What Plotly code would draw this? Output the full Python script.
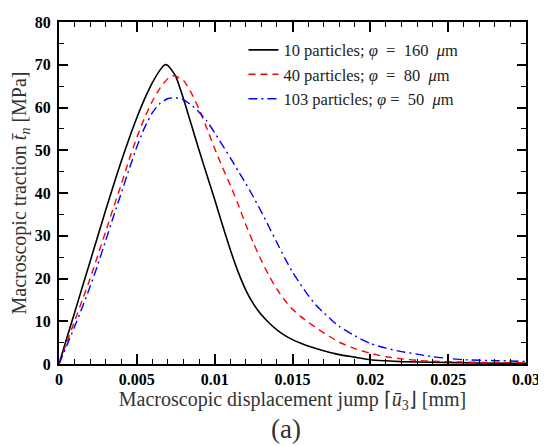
import plotly.graph_objects as go

# Data
x_black = [0, 0.0005, 0.001, 0.0015, 0.002, 0.0025, 0.003, 0.0035, 0.004, 0.0045, 0.005, 0.0055,
           0.006, 0.0065, 0.0068, 0.007, 0.0075, 0.008, 0.0085, 0.009, 0.0095, 0.010, 0.0105,
           0.011, 0.0115, 0.012, 0.0125, 0.013, 0.0135, 0.014, 0.0145, 0.015, 0.0155, 0.016,
           0.017, 0.018, 0.019, 0.020, 0.021, 0.022, 0.024, 0.027, 0.03]
y_black = [0, 6, 12, 18, 24, 30, 36, 41.8, 47.4, 52.7, 57.6, 62.0,
           65.8, 68.8, 70.0, 69.8, 67.3, 62.0, 56.0, 50.0, 44.2, 38.5, 32.5,
           26.8, 21.6, 17.3, 14.0, 11.5, 9.6, 8.0, 6.7, 5.7, 4.9, 4.2,
           3.1, 2.2, 1.6, 1.0, 0.75, 0.55, 0.4, 0.25, 0.15]

x_red = [0, 0.0005, 0.001, 0.0015, 0.002, 0.0025, 0.003, 0.0035, 0.004, 0.0045, 0.005, 0.0055,
         0.006, 0.0065, 0.007, 0.0073, 0.0075, 0.008, 0.0085, 0.009, 0.0095, 0.010, 0.0105,
         0.011, 0.0115, 0.012, 0.0125, 0.013, 0.0135, 0.014, 0.0145, 0.015, 0.0155, 0.016,
         0.0165, 0.017, 0.0175, 0.018, 0.019, 0.020, 0.021, 0.022, 0.023, 0.024, 0.026, 0.028, 0.03]
y_red = [0, 5, 10, 15, 20, 25.5, 31, 36.6, 42, 47.8, 53.0, 57.6,
         61.5, 64.6, 66.8, 67.4, 67.3, 66.3, 63.4, 59.6, 55.1, 50.4, 46.0,
         41.9, 37.4, 32.6, 28.2, 24.2, 20.6, 17.5, 14.9, 12.8, 11.2, 9.8,
         8.5, 7.3, 6.2, 5.1, 3.6, 2.5, 1.7, 1.2, 0.85, 0.65, 0.45, 0.35, 0.3]

x_blue = [0, 0.0005, 0.001, 0.0015, 0.002, 0.0025, 0.003, 0.0035, 0.004, 0.0045, 0.005, 0.0055,
          0.006, 0.0065, 0.007, 0.0075, 0.008, 0.0085, 0.009, 0.0095, 0.010, 0.0105,
          0.011, 0.0115, 0.012, 0.0125, 0.013, 0.0135, 0.014, 0.0145, 0.015, 0.0155, 0.016,
          0.0165, 0.017, 0.0175, 0.018, 0.019, 0.020, 0.021, 0.022, 0.023, 0.024, 0.025, 0.026,
          0.028, 0.03]
y_blue = [0, 4.3, 8.7, 13.3, 18.1, 23.3, 28.9, 34.5, 40, 45.5, 50.8, 55.3,
          58.8, 61.0, 62.1, 62.3, 61.8, 60.6, 58.9, 56.8, 54.1, 51.2,
          48.3, 45.2, 42.2, 39.0, 35.6, 32.0, 28.4, 24.8, 21.5, 18.7, 16.1,
          13.8, 12.0, 10.3, 8.8, 6.6, 4.8, 3.7, 2.9, 2.3, 1.7, 1.3, 1.0,
          0.8, 0.6]

names = ["10 particles; <i>φ</i>  =  160  <i>μ</i>m",
         "40 particles; <i>φ</i>  =  80  <i>μ</i>m",
         "103 particles; <i>φ</i> =  50  <i>μ</i>m"]

x_ticks = [0, 0.005, 0.01, 0.015, 0.02, 0.025, 0.03]
x_ticklabels = ["0", "0.005", "0.01", "0.015", "0.02", "0.025", "0.03"]
y_ticks = [0, 10, 20, 30, 40, 50, 60, 70, 80]

serif = "Liberation Serif"

fig = go.Figure()
fig.add_trace(go.Scatter(x=x_black, y=y_black, mode="lines", name=names[0],
                         line=dict(color="black", width=1.6, shape="spline", smoothing=0.5)))
fig.add_trace(go.Scatter(x=x_red, y=y_red, mode="lines", name=names[1],
                         line=dict(color="#ff0000", width=1.4, dash="7px,5px", shape="spline", smoothing=0.5)))
fig.add_trace(go.Scatter(x=x_blue, y=y_blue, mode="lines", name=names[2],
                         line=dict(color="#0000ff", width=1.4, dash="9px,4px,2px,4px", shape="spline", smoothing=0.5)))

# page body has an 8px margin: figure is sized so the plot lands where the reference has it
fig.update_layout(
    width=538, height=438,
    margin=dict(l=50.5, r=15, t=6, b=82),
    paper_bgcolor="white", plot_bgcolor="white",
    font=dict(family=serif, color="black", size=16),
    legend=dict(x=0.395, y=0.969, xanchor="left", yanchor="top",
                bgcolor="rgba(0,0,0,0)", font=dict(family=serif, size=16.5, color="#222222"),
                itemwidth=30, tracegroupgap=0),
    showlegend=True,
)

fig.update_xaxes(
    range=[0, 0.03], tickvals=x_ticks, ticktext=x_ticklabels,
    ticks="inside", ticklen=10, tickwidth=1.5, tickcolor="black",
    showline=True, linecolor="black", linewidth=2, mirror="ticks",
    showgrid=False, zeroline=False, ticklabeloverflow="allow",
    tickfont=dict(family=serif, size=16, weight="bold"),
    minor=dict(dtick=0.001, ticks="inside", ticklen=5, tickwidth=1.2, tickcolor="black", showgrid=False),
    title=dict(text="Macroscopic displacement jump ⌈<i>ū</i><sub>3</sub>⌋ [mm]",
               font=dict(family=serif, size=20, color="#333333"), standoff=5),
)
fig.update_yaxes(
    range=[0, 80], tickvals=y_ticks,
    ticks="inside", ticklen=9, tickwidth=1.5, tickcolor="black",
    showline=True, linecolor="black", linewidth=2, mirror="ticks",
    showgrid=False, zeroline=False, ticklabelstandoff=3, ticklabeloverflow="allow",
    tickfont=dict(family=serif, size=16, weight="bold"),
    minor=dict(dtick=5, ticks="inside", ticklen=5, tickwidth=1.2, tickcolor="black", showgrid=False),
    title=dict(text="Macroscopic traction <i>t̄</i><sub><i>n</i></sub> [MPa]",
               font=dict(family=serif, size=20, color="#333333"), standoff=6),
)

fig.add_annotation(text="(a)", xref="paper", yref="paper", x=0.4855, y=-0.19,
                   xanchor="center", yanchor="middle", showarrow=False,
                   font=dict(family=serif, size=27, color="#333333"))

fig.write_html("out.html")
